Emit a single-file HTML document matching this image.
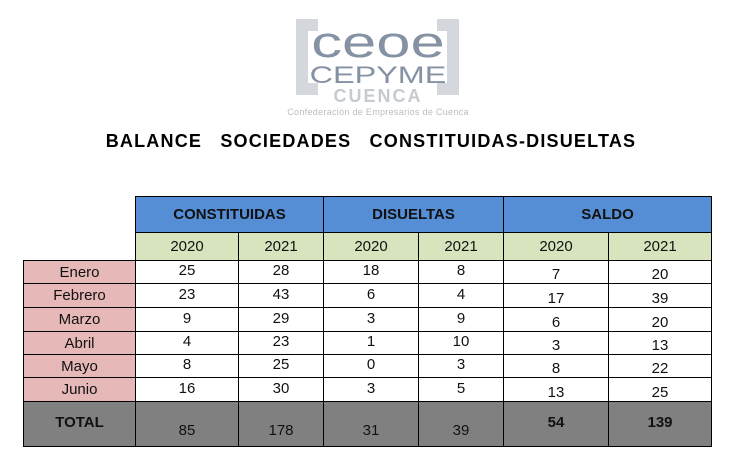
<!DOCTYPE html>
<html><head><meta charset="utf-8"><style>
body{margin:0;width:742px;height:463px;background:#fff;position:relative;overflow:hidden;font-family:"Liberation Sans",Arial,sans-serif}
.c{position:absolute;box-sizing:border-box;display:flex;align-items:center;justify-content:center;color:#111;font-size:15px}
</style></head><body>
<div style="position:absolute;left:290px;top:15px;width:170px;height:105px">
 <div style="position:absolute;left:6px;top:4px;width:12px;height:76px;background:#d4d7db"></div>
 <div style="position:absolute;left:18px;top:4px;width:10px;height:12px;background:#d4d7db"></div>
 <div style="position:absolute;left:18px;top:68px;width:10px;height:12px;background:#d4d7db"></div>
 <div style="position:absolute;left:157px;top:4px;width:12px;height:76px;background:#d4d7db"></div>
 <div style="position:absolute;left:147px;top:4px;width:10px;height:12px;background:#d4d7db"></div>
 <div style="position:absolute;left:147px;top:68px;width:10px;height:12px;background:#d4d7db"></div>
 <div style="position:absolute;left:0;width:176px;top:8px;text-align:center;font-size:44px;line-height:40px;color:#8592a4;transform:scaleX(1.4)">ceoe</div>
 <div style="position:absolute;left:0;width:176px;top:50px;text-align:center;font-size:24px;line-height:22px;color:#8592a4;transform:scaleX(1.35)">CEPYME</div>
 <div style="position:absolute;left:0;width:176px;top:73px;text-align:center;font-size:18px;font-weight:bold;line-height:17px;color:#c7cbd0;letter-spacing:2px">CUENCA</div>
 <div style="position:absolute;left:-12px;width:200px;top:93px;text-align:center;font-size:9px;line-height:9px;color:#b8bcc2;letter-spacing:0.3px">Confederación de Empresarios de Cuenca</div>
</div>
<div style="position:absolute;left:0;width:742px;top:131px;text-align:center;font-size:18px;font-weight:bold;word-spacing:12px;letter-spacing:1.2px;color:#000">BALANCE SOCIEDADES CONSTITUIDAS-DISUELTAS</div>
<div id="tbl"></div>
<script>
const groups=["CONSTITUIDAS","DISUELTAS","SALDO"];
const years=["2020","2021"];
const months=["Enero","Febrero","Marzo","Abril","Mayo","Junio"];
const constituidas2020=[25,23,9,4,8,16];
const constituidas2021=[28,43,29,23,25,30];
const disueltas2020=[18,6,3,1,0,3];
const disueltas2021=[8,4,9,10,3,5];
const saldo2020=[7,17,6,3,8,13];
const saldo2021=[20,39,20,13,22,25];
const totals=[85,178,31,39,54,139];
const xs=[135,238,323,418,503,608,711];
const rowY=[260,283,307,331,354,377,401];
const T=document.getElementById('tbl');
function cell(x,y,w,h,txt,bg,extra){const d=document.createElement('div');d.className='c';
d.style.cssText+=`left:${x}px;top:${y}px;width:${w+1}px;height:${h+1}px;background:${bg};border:1px solid #000;`+(extra||'');
d.textContent=txt;T.appendChild(d);return d;}
groups.forEach((g,i)=>{const d=cell(xs[i*2],196,xs[i*2+2]-xs[i*2],36,g,'#558ed5','font-weight:bold;');


for(let j=0;j<2;j++){const y=cell(xs[i*2+j],232,xs[i*2+j+1]-xs[i*2+j],28,years[j],'#d7e4bd');

}});
const cols=[constituidas2020,constituidas2021,disueltas2020,disueltas2021,saldo2020,saldo2021];
months.forEach((m,r)=>{const h=rowY[r+1]-rowY[r];
const l=cell(23,rowY[r],112,h,m,'#e6b9b8');


cols.forEach((c,k)=>{const d=cell(xs[k],rowY[r],xs[k+1]-xs[k],h,String(c[r]),'#fff',k>=4?'padding-top:5px;':'padding-bottom:3px;');

});});
const tl=cell(23,401,112,45,'TOTAL','#808080','font-weight:bold;padding-bottom:3px;');


totals.forEach((t,k)=>{const d=cell(xs[k],401,xs[k+1]-xs[k],45,String(t),'#808080',k>=4?'font-weight:bold;padding-bottom:3px;':'padding-top:12px;');

});
</script>
</body></html>
